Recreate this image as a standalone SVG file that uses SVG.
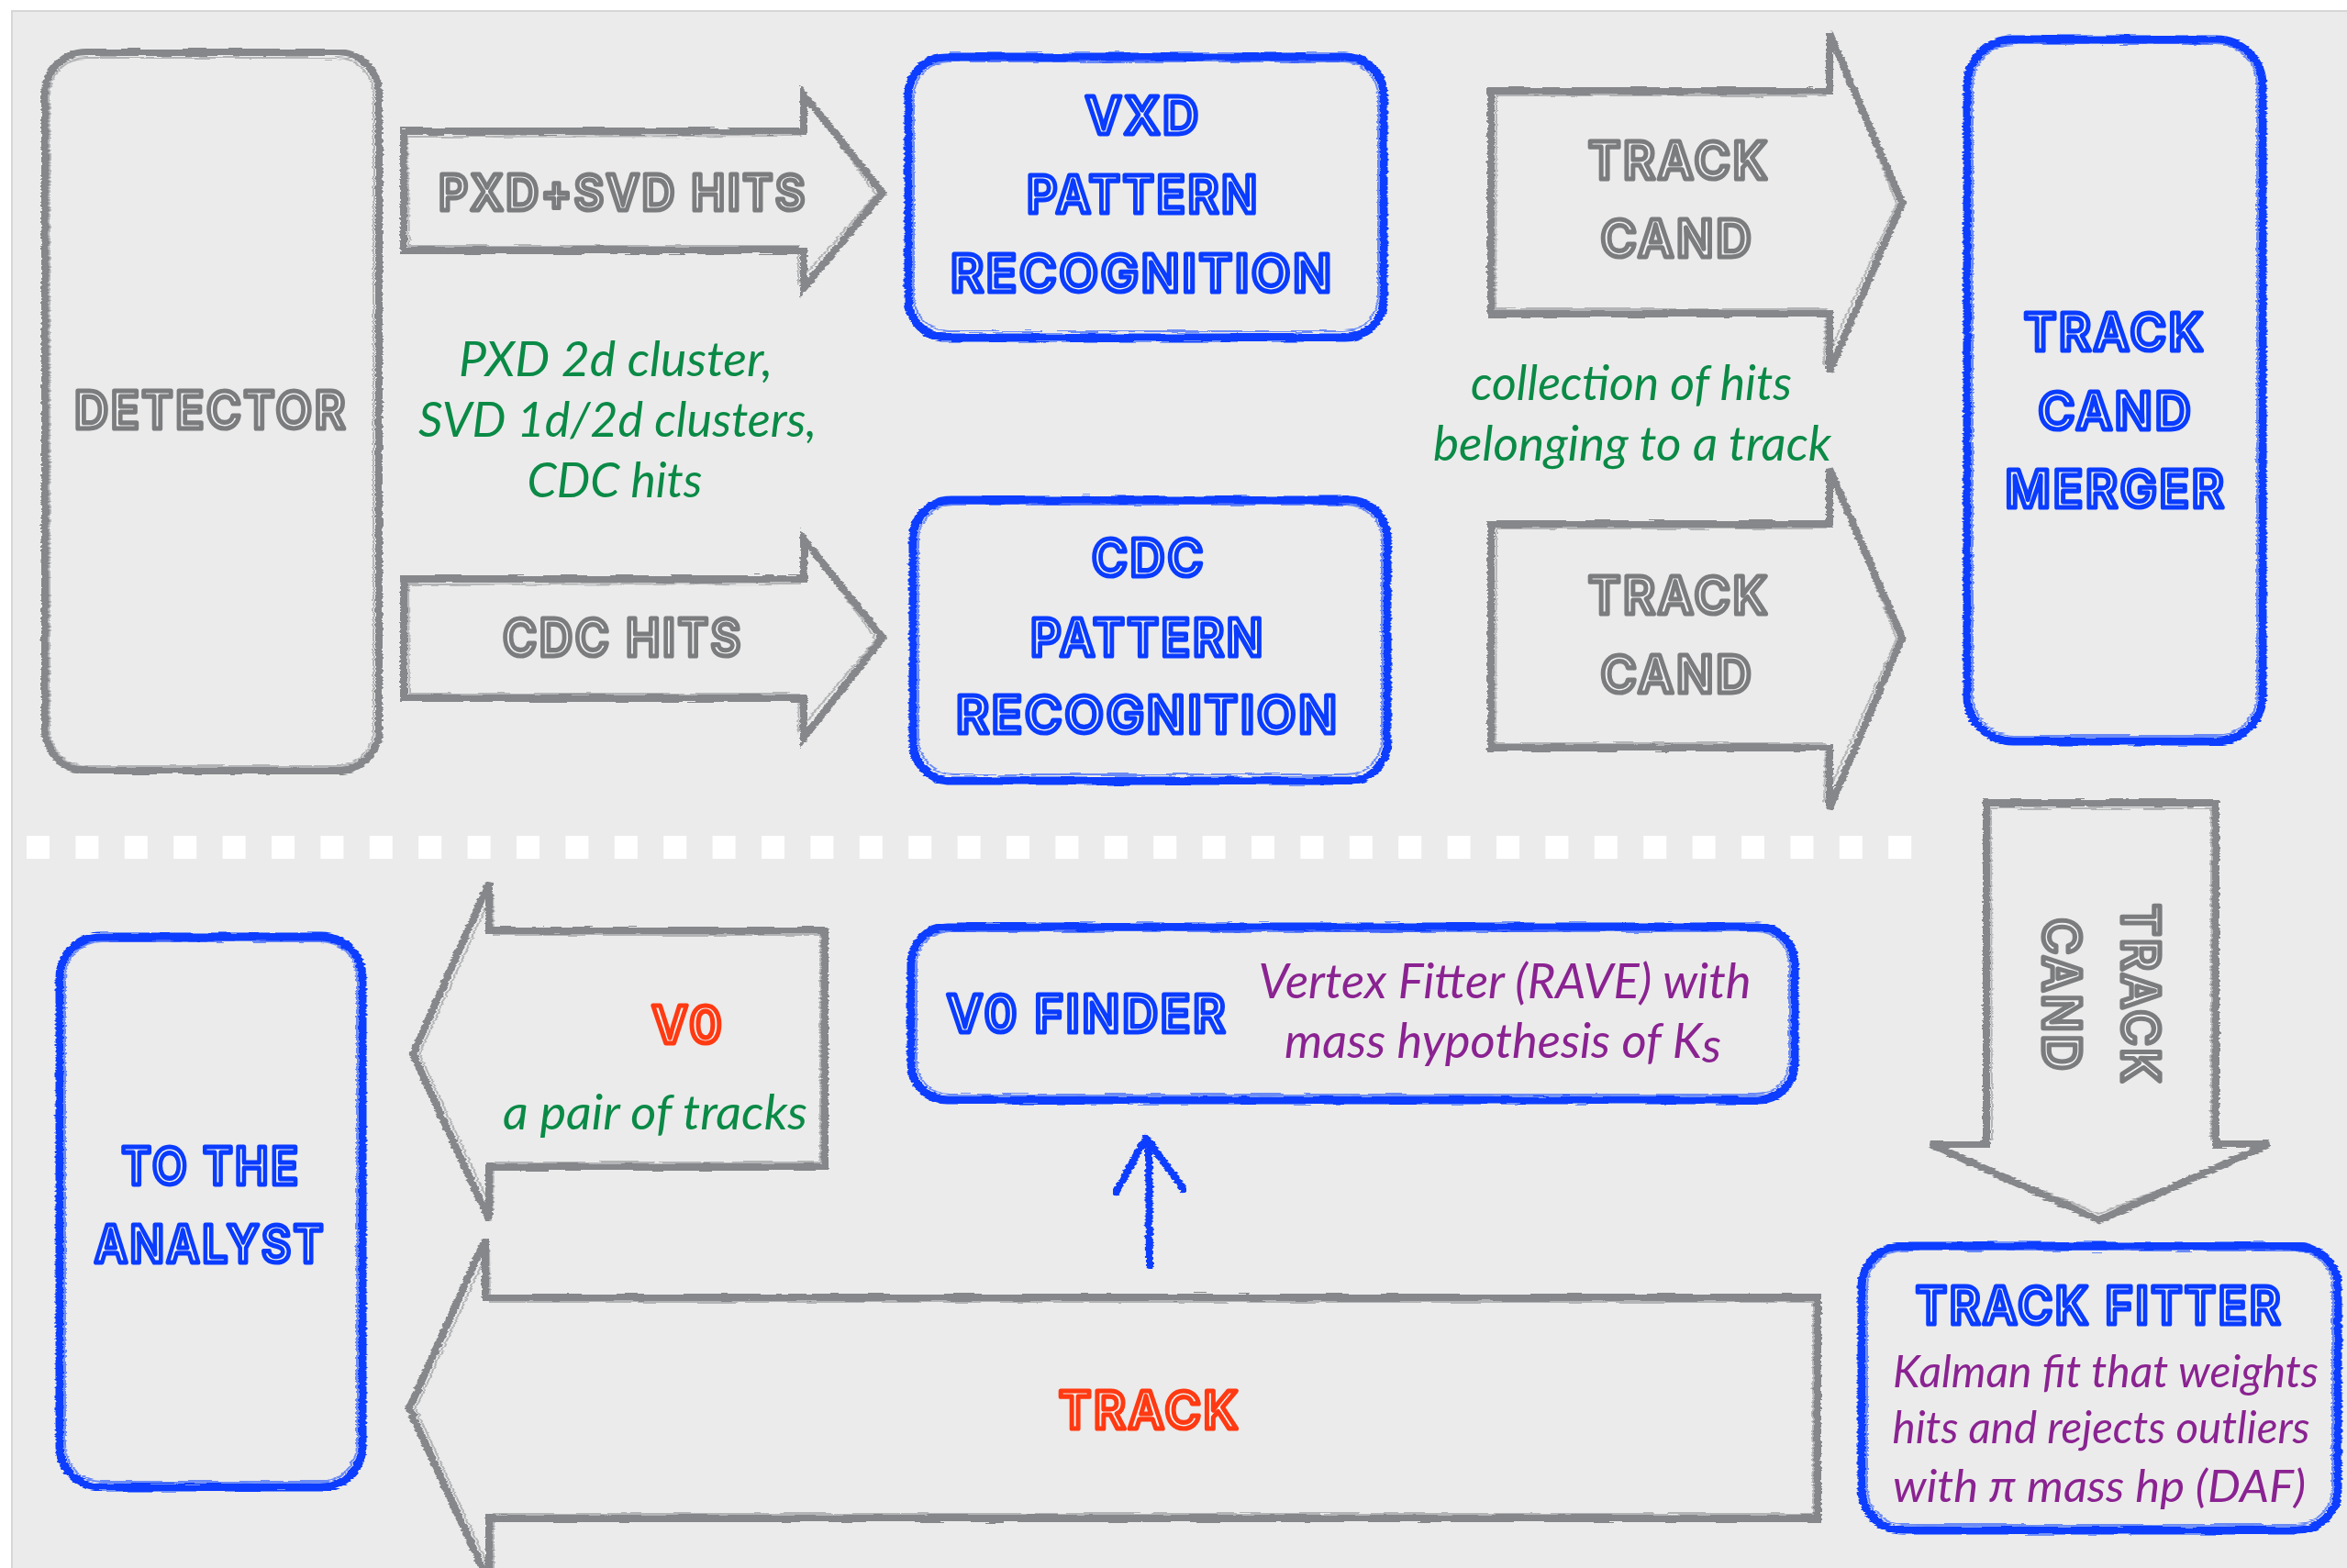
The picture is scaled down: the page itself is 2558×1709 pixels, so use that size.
<svg xmlns="http://www.w3.org/2000/svg" width="2558" height="1709" viewBox="0 0 2558 1709">
<defs>
<style>
.hd{font-family:"Inter","Liberation Sans",sans-serif;font-weight:600;letter-spacing:3px;fill:#f2f2f2;stroke-width:5.2;stroke-linejoin:round;text-anchor:middle}
.hg{stroke:#7b7c7e}
.hb{stroke:#0a3cff}
.hr{stroke:#ff3a12}
.it{font-family:"Lato","Open Sans",sans-serif;font-style:italic;text-anchor:middle}
.gr{fill:#0a8a46}
.pu{fill:#8a2391}
.gb{fill:none;stroke:#85878a;stroke-width:8;stroke-linejoin:miter}
.gb2{fill:none;stroke:#85878a;stroke-width:2;opacity:.55}
.bb{fill:none;stroke:#0a3cff;stroke-width:9}
.bb2{fill:none;stroke:#0a3cff;stroke-width:2;opacity:.55}
</style>
<filter id="rough" x="-3%" y="-3%" width="106%" height="106%">
<feTurbulence type="fractalNoise" baseFrequency="0.03 0.4" numOctaves="2" seed="4" result="n"/>
<feDisplacementMap in="SourceGraphic" in2="n" scale="5" xChannelSelector="R" yChannelSelector="G"/>
</filter>
</defs>
<rect x="0" y="0" width="2558" height="1709" fill="#ffffff"/>
<rect x="13" y="12" width="2560" height="1720" fill="#ebebeb" stroke="#d6d6d6" stroke-width="2"/>
<line x1="29" y1="923.5" x2="2084" y2="923.5" stroke="#ffffff" stroke-width="25" stroke-dasharray="25 28.4"/>

<g id="connectors">
<g filter="url(#rough)">
<polygon class="gb" points="440,143 876,143 876,103 962,210 876,314 876,273 440,273"/>
<polygon class="gb2" points="444,149 872,148 880,108 955,212 870,308 870,268 446,268"/>
<polygon class="gb" points="440,631 876,631 876,588 962,695 876,804 876,761 440,761"/>
<polygon class="gb2" points="445,637 872,636 880,594 955,697 870,797 871,756 446,756"/>
<polygon class="gb" points="1625,99 1994,99 1994,36 2073,221 1994,405 1994,342 1625,342"/>
<polygon class="gb2" points="1631,104 1990,104 1999,45 2067,222 1988,398 1990,337 1630,337"/>
<polygon class="gb" points="1625,571 1994,571 1994,511 2073,695 1994,881 1994,815 1625,815"/>
<polygon class="gb2" points="1631,576 1990,576 1999,520 2067,696 1988,874 1990,810 1630,810"/>
<polygon class="gb" points="2165,875 2415,875 2415,1247 2473,1247 2288,1330 2104,1247 2165,1247"/>
<polygon class="gb2" points="2170,881 2410,881 2410,1242 2465,1252 2288,1323 2112,1252 2171,1242"/>
<polygon class="gb" points="899,1014 533,1014 533,962 450,1149 533,1329 533,1272 899,1272"/>
<polygon class="gb2" points="894,1019 538,1019 537,972 457,1149 537,1320 538,1267 894,1267"/>
<polygon class="gb" points="1981,1414 529,1414 529,1351 446,1535 533,1725 533,1655 1981,1655"/>
<polygon class="gb2" points="1976,1419 534,1419 533,1361 453,1535 538,1720 538,1650 1976,1650"/>
</g>
<g filter="url(#rough)" fill="none" stroke="#0a3cff" stroke-width="8" stroke-linecap="round" stroke-linejoin="round">
<path d="M1253,1379 L1252,1248"/>
<path d="M1216,1300 L1249,1240 L1290,1296"/>
</g>
</g>

<g id="detector">
<g filter="url(#rough)">
<rect class="gb" x="49" y="57" width="364" height="783" rx="45"/>
<rect class="gb2" x="54" y="63" width="353" height="772" rx="40"/>
</g>
<text class="hd hg" x="230" y="467" font-size="56" textLength="298" lengthAdjust="spacingAndGlyphs">DETECTOR</text>
</g>

<g id="pxdsvd-hits">
<text class="hd hg" x="679" y="229" font-size="54" textLength="402" lengthAdjust="spacingAndGlyphs">PXD+SVD HITS</text>
</g>
<g id="cdc-hits">
<text class="hd hg" x="679" y="715" font-size="56" textLength="262" lengthAdjust="spacingAndGlyphs">CDC HITS</text>
</g>
<g id="hits-note">
<text class="it gr" x="671" y="410" font-size="52" textLength="342" lengthAdjust="spacingAndGlyphs">PXD 2d cluster,</text>
<text class="it gr" x="673" y="476" font-size="52" textLength="434" lengthAdjust="spacingAndGlyphs">SVD 1d/2d clusters,</text>
<text class="it gr" x="670" y="542" font-size="52" textLength="191" lengthAdjust="spacingAndGlyphs">CDC hits</text>
</g>

<g id="vxd-pr">
<g filter="url(#rough)">
<rect class="bb" x="990" y="62" width="518" height="306" rx="42"/>
<rect class="bb2" x="996" y="67" width="506" height="294" rx="38"/>
</g>
<text class="hd hb" x="1246" y="146" font-size="56" textLength="126" lengthAdjust="spacingAndGlyphs">VXD</text>
<text class="hd hb" x="1246" y="232" font-size="56" textLength="254" lengthAdjust="spacingAndGlyphs">PATTERN</text>
<text class="hd hb" x="1245" y="318" font-size="56" textLength="418" lengthAdjust="spacingAndGlyphs">RECOGNITION</text>
</g>

<g id="cdc-pr">
<g filter="url(#rough)">
<rect class="bb" x="995" y="545" width="517" height="306" rx="42"/>
<rect class="bb2" x="1001" y="550" width="505" height="294" rx="38"/>
</g>
<text class="hd hb" x="1252" y="628" font-size="56" textLength="124" lengthAdjust="spacingAndGlyphs">CDC</text>
<text class="hd hb" x="1251" y="715" font-size="56" textLength="256" lengthAdjust="spacingAndGlyphs">PATTERN</text>
<text class="hd hb" x="1251" y="799" font-size="56" textLength="418" lengthAdjust="spacingAndGlyphs">RECOGNITION</text>
</g>

<g id="trackcand-1">
<text class="hd hg" x="1830" y="195" font-size="56" textLength="198" lengthAdjust="spacingAndGlyphs">TRACK</text>
<text class="hd hg" x="1828" y="280" font-size="56" textLength="167" lengthAdjust="spacingAndGlyphs">CAND</text>
</g>
<g id="trackcand-note">
<text class="it gr" x="1778" y="436" font-size="52" textLength="350" lengthAdjust="spacingAndGlyphs">collection of hits</text>
<text class="it gr" x="1779" y="502" font-size="52" textLength="434" lengthAdjust="spacingAndGlyphs">belonging to a track</text>
</g>
<g id="trackcand-2">
<text class="hd hg" x="1830" y="669" font-size="56" textLength="198" lengthAdjust="spacingAndGlyphs">TRACK</text>
<text class="hd hg" x="1828" y="755" font-size="56" textLength="167" lengthAdjust="spacingAndGlyphs">CAND</text>
</g>

<g id="merger">
<g filter="url(#rough)">
<rect class="bb" x="2144" y="43" width="322" height="765" rx="50"/>
<rect class="bb2" x="2150" y="48" width="310" height="754" rx="45"/>
</g>
<text class="hd hb" x="2305" y="382" font-size="56" textLength="198" lengthAdjust="spacingAndGlyphs">TRACK</text>
<text class="hd hb" x="2306" y="468" font-size="56" textLength="169" lengthAdjust="spacingAndGlyphs">CAND</text>
<text class="hd hb" x="2306" y="553" font-size="56" textLength="241" lengthAdjust="spacingAndGlyphs">MERGER</text>
</g>

<g id="trackcand-3">
<text class="hd hg" transform="translate(2313,1084) rotate(90)" x="0" y="0" font-size="56" textLength="198" lengthAdjust="spacingAndGlyphs">TRACK</text>
<text class="hd hg" transform="translate(2227,1085) rotate(90)" x="0" y="0" font-size="56" textLength="169" lengthAdjust="spacingAndGlyphs">CAND</text>
</g>

<g id="track-fitter">
<g filter="url(#rough)">
<rect class="bb" x="2029" y="1358" width="519" height="310" rx="45"/>
<rect class="bb2" x="2035" y="1363" width="507" height="299" rx="40"/>
</g>
<text class="hd hb" x="2288" y="1443" font-size="56" textLength="400" lengthAdjust="spacingAndGlyphs">TRACK FITTER</text>
<text class="it pu" x="2295" y="1512" font-size="48" textLength="464" lengthAdjust="spacingAndGlyphs">Kalman fit that weights</text>
<text class="it pu" x="2290" y="1573" font-size="48" textLength="455" lengthAdjust="spacingAndGlyphs">hits and rejects outliers</text>
<text class="it pu" x="2288" y="1637" font-size="48" textLength="450" lengthAdjust="spacingAndGlyphs">with π mass hp (DAF)</text>
</g>

<g id="v0-finder">
<g filter="url(#rough)">
<rect class="bb" x="993" y="1010" width="963" height="189" rx="40"/>
<rect class="bb2" x="999" y="1015" width="951" height="178" rx="36"/>
</g>
<text class="hd hb" x="1185" y="1125" font-size="56" textLength="306" lengthAdjust="spacingAndGlyphs">V0 FINDER</text>
<text class="it pu" x="1640" y="1088" font-size="52" textLength="537" lengthAdjust="spacingAndGlyphs">Vertex Fitter (RAVE) with</text>
<text class="it pu" x="1638" y="1153" font-size="52" textLength="476" lengthAdjust="spacingAndGlyphs">mass hypothesis of K<tspan dy="5">s</tspan></text>
</g>

<g id="v0">
<text class="hd hr" x="750" y="1137" font-size="56" textLength="79" lengthAdjust="spacingAndGlyphs">V0</text>
<text class="it gr" x="714" y="1231" font-size="52" textLength="332" lengthAdjust="spacingAndGlyphs">a pair of tracks</text>
</g>

<g id="track">
<text class="hd hr" x="1253" y="1557" font-size="56" textLength="198" lengthAdjust="spacingAndGlyphs">TRACK</text>
</g>

<g id="analyst">
<g filter="url(#rough)">
<rect class="bb" x="65" y="1021" width="330" height="600" rx="45"/>
<rect class="bb2" x="71" y="1026" width="318" height="589" rx="40"/>
</g>
<text class="hd hb" x="230" y="1291" font-size="56" textLength="195" lengthAdjust="spacingAndGlyphs">TO THE</text>
<text class="hd hb" x="229" y="1376" font-size="56" textLength="252" lengthAdjust="spacingAndGlyphs">ANALYST</text>
</g>
</svg>
